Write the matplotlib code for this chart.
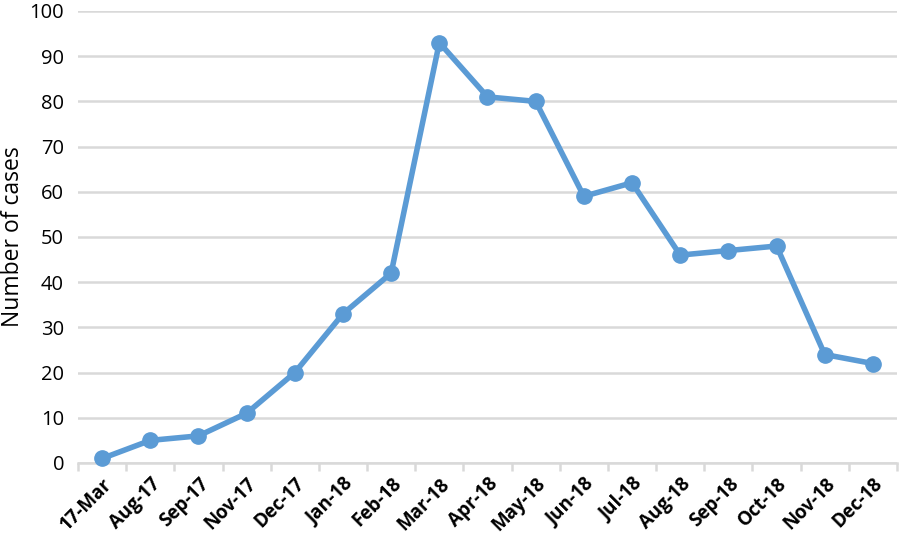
import matplotlib
matplotlib.use("Agg")
import matplotlib.pyplot as plt

categories = ["17-Mar", "Aug-17", "Sep-17", "Nov-17", "Dec-17", "Jan-18", "Feb-18",
              "Mar-18", "Apr-18", "May-18", "Jun-18", "Jul-18", "Aug-18", "Sep-18",
              "Oct-18", "Nov-18", "Dec-18"]
cases = [1, 5, 6, 11, 20, 33, 42, 93, 81, 80, 59, 62, 46, 47, 48, 24, 22]
yticks = [0, 10, 20, 30, 40, 50, 60, 70, 80, 90, 100]

plt.rcParams['font.family'] = ['Open Sans', 'DejaVu Sans']

W, H = 904, 548
fig = plt.figure(figsize=(W / 100, H / 100), dpi=100)
ax = fig.add_axes([78 / W, 1 - 463 / H, (897 - 78) / W, (463 - 11) / H])

x = list(range(len(categories)))
ax.plot(x, cases, color="#5B9BD5", linewidth=4, marker="o", markersize=11,
        solid_capstyle="round", zorder=3, clip_on=False)

ax.set_xlim(-0.5, len(categories) - 0.5)
ax.set_ylim(0, 100)
ax.set_yticks(yticks)
ax.set_yticklabels([str(v) for v in yticks], fontsize=14.5)
ax.grid(axis="y", color="#D9D9D9", linewidth=1.8, zorder=0)
ax.set_axisbelow(True)

ax.set_xticks([i - 0.5 for i in range(len(categories) + 1)], minor=False)
ax.set_xticklabels([""] * (len(categories) + 1))
ax.set_xticks(x, minor=True)
ax.set_xticklabels(categories, minor=True, rotation=45, ha="right",
                   rotation_mode="anchor", fontsize=13.5, fontweight="bold")
ax.tick_params(axis="x", which="major", length=6, width=1.8, color="#D9D9D9")
ax.tick_params(axis="x", which="minor", length=0, pad=8)
ax.tick_params(axis="y", length=0, pad=10)

for s in ["top", "right", "left"]:
    ax.spines[s].set_visible(False)
ax.spines["bottom"].set_color("#D9D9D9")
ax.spines["bottom"].set_linewidth(1.8)

ax.set_ylabel("Number of cases", fontsize=16.5)
ax.yaxis.set_label_coords(-53 / (897 - 78), 0.5)

fig.savefig("out.png", dpi=100)
